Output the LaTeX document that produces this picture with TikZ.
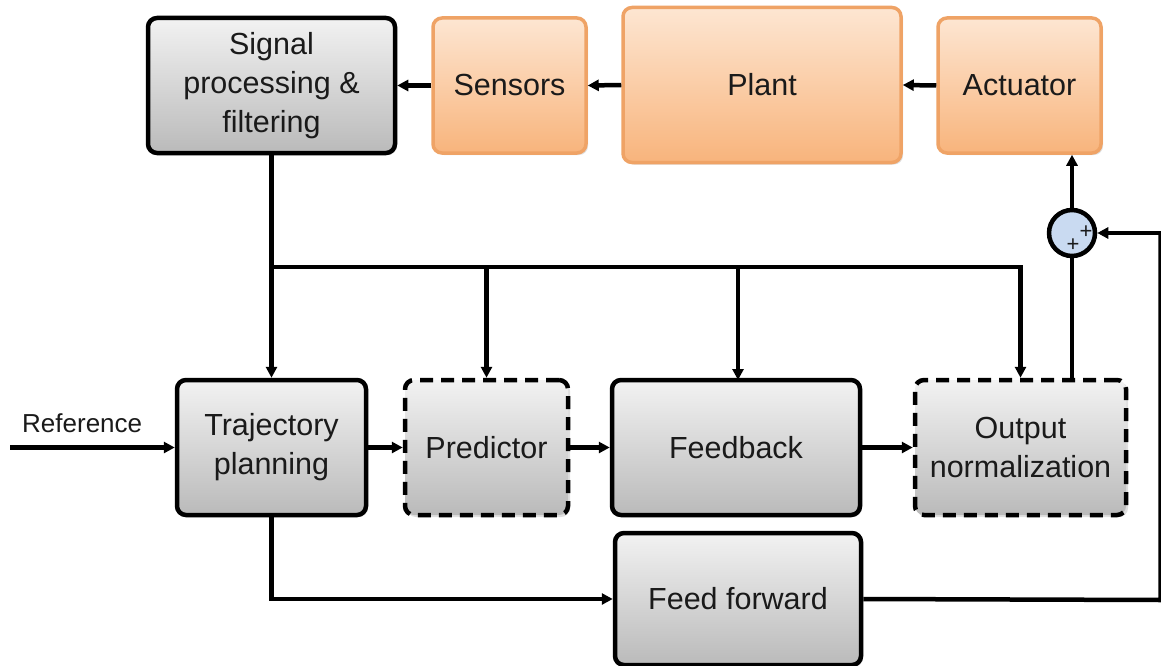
\documentclass[tikz,border=0pt]{standalone}
\usepackage{fontspec}
\setmainfont{Liberation Sans}
\usetikzlibrary{arrows.meta,shadows,calc}
\definecolor{grayTop}{HTML}{F2F2F2}
\definecolor{grayBot}{HTML}{BABABA}
\definecolor{orgTop}{HTML}{FDE6D2}
\definecolor{orgBot}{HTML}{F8B47C}
\definecolor{orgLine}{HTML}{EFA366}
\definecolor{sumFill}{HTML}{C9DAF1}
\definecolor{ink}{HTML}{1A1A1A}
\tikzset{
  blockbase/.style={rounded corners=9pt, align=center, text=ink,
    font=\fontsize{30.5}{39}\selectfont,
    drop shadow={opacity=0.25, shadow xshift=2pt, shadow yshift=-2pt}},
  graybox/.style={blockbase, draw=black, line width=4.5pt,
    top color=grayTop, bottom color=grayBot},
  dashbox/.style={graybox, dash pattern=on 13pt off 8pt},
  orangebox/.style={blockbase, draw=orgLine, line width=3.5pt,
    top color=orgTop, bottom color=orgBot},
  sumnode/.style={circle, draw=black, line width=4.5pt, fill=sumFill,
    minimum size=46pt, inner sep=0pt},
  wire/.style={line width=4.5pt, draw=black},
  arrow/.style={wire, -{Triangle[length=11pt,width=11pt]}},
  plussign/.style={font=\fontsize{22}{22}\selectfont, text=ink, inner sep=0pt},
}
\begin{document}
\begin{tikzpicture}[x=1pt,y=-1pt]
\useasboundingbox (0,0) rectangle (1161,666);
\fill[white] (0,0) rectangle (1161,666);

% top row: measurement chain
\node[graybox, minimum width=247pt, minimum height=135pt] (sp) at (271.5,85.5)
  {Signal\\processing \&\\filtering};
\node[orangebox, minimum width=153pt, minimum height=135pt] (sens) at (509.5,85.5) {Sensors};
\node[orangebox, minimum width=278pt, minimum height=155pt] (plant) at (762,85) {Plant};
\node[orangebox, minimum width=163pt, minimum height=135pt] (act) at (1019.5,85.5) {Actuator};

% summing junction
\node[sumnode] (sum) at (1072,233) {};
\node[plussign] (p1) at (1086,232) {+};
\node[plussign] (p2) at (1073,245) {+};

% middle row: controller chain
\node[graybox, minimum width=189pt, minimum height=135pt] (traj) at (271.5,447.5)
  {Trajectory\\planning};
\node[dashbox, minimum width=163pt, minimum height=135pt] (pred) at (486.5,447.5) {Predictor};
\node[graybox, minimum width=248pt, minimum height=135pt] (fb) at (736,447.5) {Feedback};
\node[dashbox, minimum width=211pt, minimum height=135pt] (onorm) at (1020.5,447.5)
  {Output\\normalization};

% bottom row
\node[graybox, minimum width=246pt, minimum height=132pt] (ff) at (738,599) {Feed forward};

% reference input
\coordinate (refin) at (10,447.5);
\node[font=\fontsize{26}{26}\selectfont, text=ink, anchor=base west, inner sep=0pt]
  (reflabel) at (22,432) {Reference};

% measurement chain arrows
\draw[arrow] (act.west) -- (plant.east);
\draw[arrow] (plant.west) -- (sens.west -| sens.east);
\draw[arrow] (sens.west) -- (sp.east);

% distribution bus from signal processing
\coordinate (bus) at (271.5,267);
\draw[arrow] (sp.south) -- (traj.north);
\draw[arrow] (bus) -| (onorm.north);
\draw[arrow] (pred.north |- bus) -- (pred.north);
\draw[arrow] (738,267) -- (738,380);

% forward chain
\draw[arrow] (refin) -- (traj.west);
\draw[arrow] (traj.east) -- (pred.west);
\draw[arrow] (pred.east) -- (fb.west);
\draw[arrow] (fb.east) -- (onorm.west);

% output to summing junction and actuator
\draw[wire] (sum.center |- onorm.north) -- (sum.south);
\draw[arrow] (sum.north) -- (sum.north |- act.south);

% feed forward path
\draw[arrow] (traj.south) |- (ff.west);
\coordinate (rc1) at (1160.5,600);
\coordinate (rc2) at (1160.5,233);
\draw[wire] (ff.east) -- (rc1) -- (rc2);
\draw[arrow] (rc2) -- (sum.east);
\end{tikzpicture}
\end{document}
